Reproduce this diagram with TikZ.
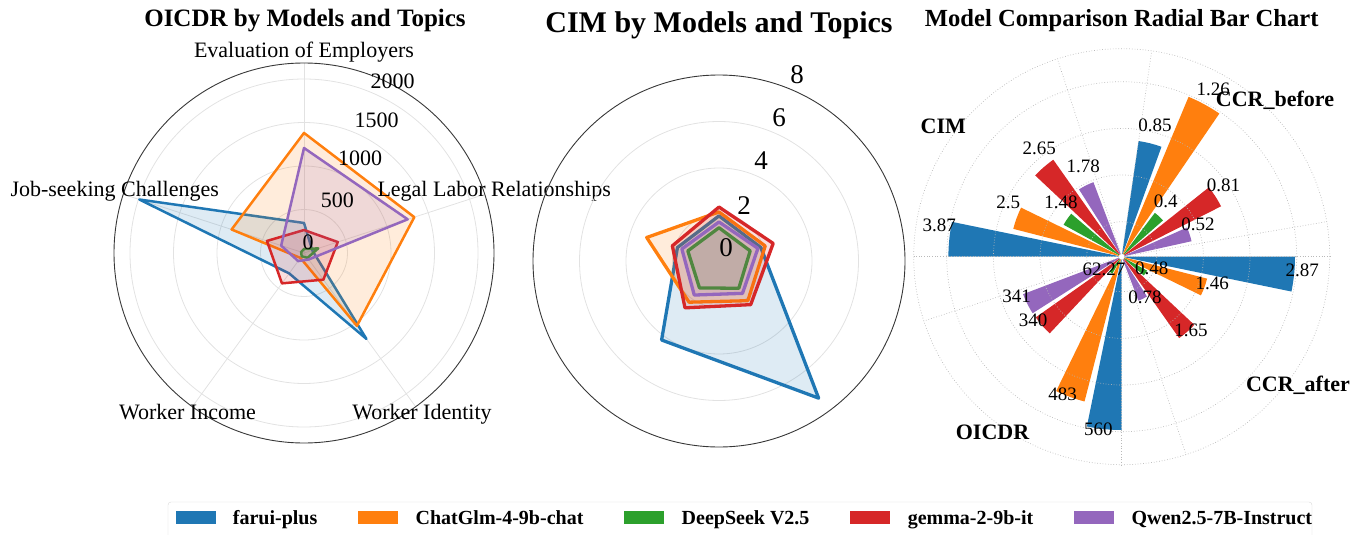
\documentclass[tikz,border=0pt]{standalone}
\usepackage{fontspec}
\setmainfont{Liberation Serif}
\usetikzlibrary{positioning}

\definecolor{faruiblue}{HTML}{1F77B4}
\definecolor{glmorange}{HTML}{FF7F0E}
\definecolor{seekgreen}{HTML}{2CA02C}
\definecolor{gemmared}{HTML}{D62728}
\definecolor{qwenpurple}{HTML}{9467BD}
\definecolor{gridgray}{RGB}{226,226,226}
\definecolor{dotgray}{RGB}{185,185,185}
\definecolor{framegray}{RGB}{55,55,55}
\newcommand{\setfs}[1]{\fontsize{#1}{#1}\selectfont}
% one wedge per model, edge angle / max value / values
\newcommand{\radialgroup}[3]{%
  \foreach \v [count=\i from 0] in {#3} {
    \pgfmathsetmacro{\angA}{#1-14.4*\i}
    \pgfmathsetmacro{\angB}{\angA-11.6}
    \pgfmathsetmacro{\barlen}{173.3*(\v/#2)}
    \pgfmathparse{{"faruiblue","glmorange","seekgreen","gemmared","qwenpurple"}[\i]}
    \edef\barcol{\pgfmathresult}
    \fill[\barcol] (0,0) -- (\angA:\barlen) arc[start angle=\angA, end angle=\angB, radius=\barlen] -- cycle;
  }%
}

\begin{document}
\begin{tikzpicture}[x=1pt, y=-1pt,
  title/.style={font=\setfs{25}\bfseries, anchor=base, inner sep=0pt},
  catlabel/.style={font=\setfs{22}, anchor=base, inner sep=0pt},
  ticklabel/.style={font=\setfs{22}, inner sep=0pt},
  bigtick/.style={font=\setfs{27}, inner sep=0pt},
  vallabel/.style={font=\setfs{19}, inner sep=0pt},
  grouplabel/.style={font=\setfs{22}\bfseries, anchor=base, inner sep=0pt},
  gridring/.style={draw=gridgray, line width=0.8pt},
  dotring/.style={draw=dotgray, line width=0.7pt, dotted},
  radarframe/.style={draw=framegray, line width=0.9pt},
  poly/.style={draw=#1, fill=#1, fill opacity=0.15, line width=2.5pt, line join=round},
  thickpoly/.style={poly=#1, line width=3.3pt},
  legpatch/.style={minimum width=40pt, minimum height=13.5pt, inner sep=0pt},
  legtext/.style={font=\setfs{20}\bfseries, inner sep=0pt, text height=13.5pt, text depth=0.5pt}
]
\useasboundingbox (0,0) rectangle (1366,535);

% ---- OICDR radar
\begin{scope}[shift={(304,253)}, yscale=-1]
  \foreach \rr in {43.5,87,130.5,174}
    \draw[gridring] (0,0) circle[radius=\rr];
  \foreach \ang in {90,18,-54,-126,162}
    \draw[gridring] (0,0) -- (\ang:190);
  \draw[radarframe] (0,0) circle[radius=190];
  \def\ks{0.087}
  \draw[poly=faruiblue] (90:\ks*345) -- (18:\ks*100) -- (-54:\ks*1220) -- (-126:\ks*290) -- (162:\ks*1990) -- cycle;
  \draw[poly=glmorange] (90:\ks*1380) -- (18:\ks*1333) -- (-54:\ks*1035) -- (-126:\ks*70) -- (162:\ks*875) -- cycle;
  \draw[poly=seekgreen] (90:\ks*46) -- (18:\ks*172) -- (-54:\ks*69) -- (-126:\ks*46) -- (162:\ks*34) -- cycle;
  \draw[poly=gemmared] (90:\ks*264) -- (18:\ks*408) -- (-54:\ks*379) -- (-126:\ks*431) -- (162:\ks*448) -- cycle;
  \draw[poly=qwenpurple] (90:\ks*1207) -- (18:\ks*1253) -- (-54:\ks*92) -- (-126:\ks*115) -- (162:\ks*276) -- cycle;
\end{scope}
\node[title] (otitle) at (305,27) {OICDR by Models and Topics};
\foreach \t/\px/\py [count=\k] in {0/308/242, 500/337.3/200.7, 1000/360/158.3, 1500/376.7/120, 2000/392.7/81.7}
  \node[ticklabel] (otick\k) at (\px,\py) {\t};
\node[catlabel] (cat1) at (304,58) {Evaluation of Employers};
\node[catlabel] (cat2) at (494.2,196) {Legal Labor Relationships};
\node[catlabel] (cat3) at (114.7,196) {Job-seeking Challenges};
\node[catlabel] (cat4) at (187.5,419) {Worker Income};
\node[catlabel] (cat5) at (422,419) {Worker Identity};

% ---- CIM radar
\begin{scope}[shift={(719,261)}, yscale=-1]
  \foreach \rr in {46.5,93,139.5}
    \draw[gridring] (0,0) circle[radius=\rr];
  \draw[radarframe] (0,0) circle[radius=186];
  \def\kc{23.25}
  \draw[thickpoly=faruiblue] (90:\kc*1.94) -- (18:\kc*1.89) -- (-54:\kc*7.29) -- (-126:\kc*4.20) -- (162:\kc*1.88) -- cycle;
  \draw[thickpoly=glmorange] (90:\kc*2.11) -- (18:\kc*2.09) -- (-54:\kc*2.11) -- (-126:\kc*2.19) -- (162:\kc*3.27) -- cycle;
  \draw[thickpoly=seekgreen] (90:\kc*1.43) -- (18:\kc*1.41) -- (-54:\kc*1.45) -- (-126:\kc*1.43) -- (162:\kc*1.41) -- cycle;
  \draw[thickpoly=gemmared] (90:\kc*2.32) -- (18:\kc*2.45) -- (-54:\kc*2.32) -- (-126:\kc*2.49) -- (162:\kc*2.11) -- cycle;
  \draw[thickpoly=qwenpurple] (90:\kc*1.68) -- (18:\kc*1.76) -- (-54:\kc*1.72) -- (-126:\kc*1.81) -- (162:\kc*1.68) -- cycle;
\end{scope}
\node[title, font=\setfs{30}\bfseries] (ctitle) at (719,32.3) {CIM by Models and Topics};
\foreach \t/\px/\py [count=\k] in {0/726/248, 2/744/206, 4/761/161, 6/779/118, 8/797/75}
  \node[bigtick] (ctick\k) at (\px,\py) {\t};

% ---- radial bars
\begin{scope}[shift={(1121.7,256.7)}, yscale=-1]
  \radialgroup{180}{3.87}{3.87,2.5,1.48,2.65,1.78}
  \radialgroup{81.7}{1.26}{0.85,1.26,0.4,0.81,0.52}
  \radialgroup{0}{2.87}{2.87,1.46,0.48,1.65,0.78}
  \radialgroup{-90}{560}{560,483,62.27,340,341}
  \foreach \rr in {35,81.7,128.3,175,208}
    \draw[dotring] (0,0) circle[radius=\rr];
  \foreach \ang in {180,108,81.7,9.7,0,-72,-90,-162}
    \draw[dotring] (0,0) -- (\ang:208);
  \draw[dotring, fill=white] (0,0) circle[radius=3];
\end{scope}
\node[title, font=\setfs{24.6}\bfseries] (rtitle) at (1121.7,26.7) {Model Comparison Radial Bar Chart};
\foreach \t/\px/\py [count=\k] in {3.87/939.3/225, 2.5/1008.3/202, 1.48/1061/202.5, 2.65/1039.3/148.3,
    1.78/1083.3/166, 0.85/1155/125.5, 1.26/1213.3/89.3, 0.4/1165.7/201, 0.81/1223.5/185,
    0.52/1198/224, 2.87/1302.2/270, 1.46/1212.2/283, 0.48/1151.7/268.8, 1.65/1191/330.7,
    0.78/1145/297.5, 560/1098.3/429.2, 483/1062.7/394.5, 62.27/1104/269, 340/1033/320, 341/1016.7/296}
  \node[vallabel] (val\k) at (\px,\py) {\t};
\node[grouplabel] (gcim) at (943.3,133.3) {CIM};
\node[grouplabel] (gbefore) at (1275,106.3) {CCR\_before};
\node[grouplabel] (gafter) at (1298,391) {CCR\_after};
\node[grouplabel] (goicdr) at (992.5,439.3) {OICDR};

% ---- legend
\draw[draw=black!15, fill=white, rounded corners=3pt] (168,502) rectangle (1312,548);
\node[legpatch, fill=faruiblue] (key1) at (195.5,517.5) {};
\node[legtext, right=17pt of key1] (name1) {farui-plus};
\node[legpatch, fill=glmorange, right=40.5pt of name1] (key2) {};
\node[legtext, right=17pt of key2] (name2) {ChatGlm-4-9b-chat};
\node[legpatch, fill=seekgreen, right=40.5pt of name2] (key3) {};
\node[legtext, right=17pt of key3] (name3) {DeepSeek V2.5};
\node[legpatch, fill=gemmared, right=40.5pt of name3] (key4) {};
\node[legtext, right=17pt of key4] (name4) {gemma-2-9b-it};
\node[legpatch, fill=qwenpurple, right=40.5pt of name4] (key5) {};
\node[legtext, right=17pt of key5] (name5) {Qwen2.5-7B-Instruct};
\end{tikzpicture}
\end{document}
